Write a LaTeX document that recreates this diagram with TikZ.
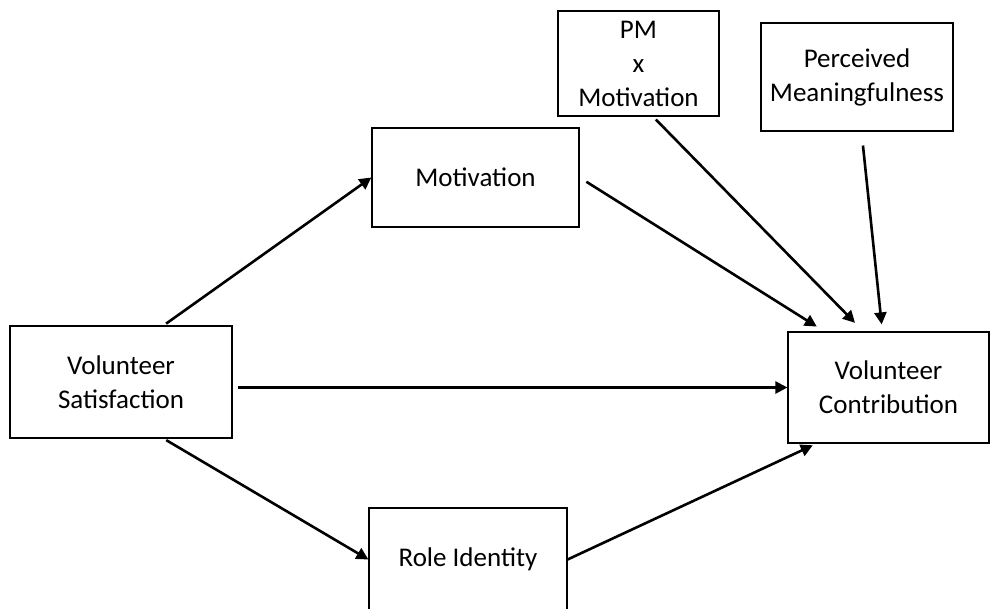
\documentclass[tikz,border=0pt]{standalone}
\usepackage{fontspec}
\setmainfont{Carlito}
\usetikzlibrary{arrows, arrows.meta, positioning, calc}

\begin{document}
\begin{tikzpicture}[x=1pt,y=1pt,>={Triangle[length=12pt,width=12pt]},
  var/.style={draw, line width=1.2pt, inner sep=0pt, align=center, font=\fontsize{27}{34}\selectfont},
  path/.style={->, line width=2.6pt}]
\useasboundingbox (0,0) rectangle (990,608);
% The boxes
\node [var, minimum width=222pt, minimum height=112pt] (vs) at (121,226) {Volunteer\\Satisfaction};
\node [var, minimum width=207pt, minimum height=99pt] (mot) at (475.5,430.5) {Motivation};
\node [var, minimum width=198pt, minimum height=103pt] (ri) at (468,48.5) {Role Identity};
\node [var, minimum width=161pt, minimum height=105pt] (pm) at (638.5,544.5) {PM\\x\\Motivation};
\node [var, minimum width=192pt, minimum height=108pt] (pmean) at (857,531) {Perceived\\Meaningfulness};
\node [var, minimum width=201pt, minimum height=111pt] (vc) at (888.5,220.5) {Volunteer\\Contribution};
% The paths
\draw [path, shorten <=3pt] (vs.53) -- (mot.west);
\draw [path, shorten <=3pt] (vs.-53) -- (ri.west);
\draw [path, shorten <=5pt] (vs.east |- vc.west) -- (vc.west);
\draw [path, shorten >=4pt] (ri.east) -- ($(vc.south west)+(29,0)$);
\draw [path, shorten <=8pt, shorten >=9pt] (mot.east) -- ($(vc.north west)+(37,0)$);
\draw [path, shorten <=4pt, shorten >=12pt] ($(pm.south)+(14.5,0)$) -- ($(vc.north west)+(76,0)$);
\draw [path, shorten <=14pt, shorten >=7pt] ($(pmean.south)+(4.5,0)$) -- ($(vc.north west)+(95,0)$);
\end{tikzpicture}
\end{document}
